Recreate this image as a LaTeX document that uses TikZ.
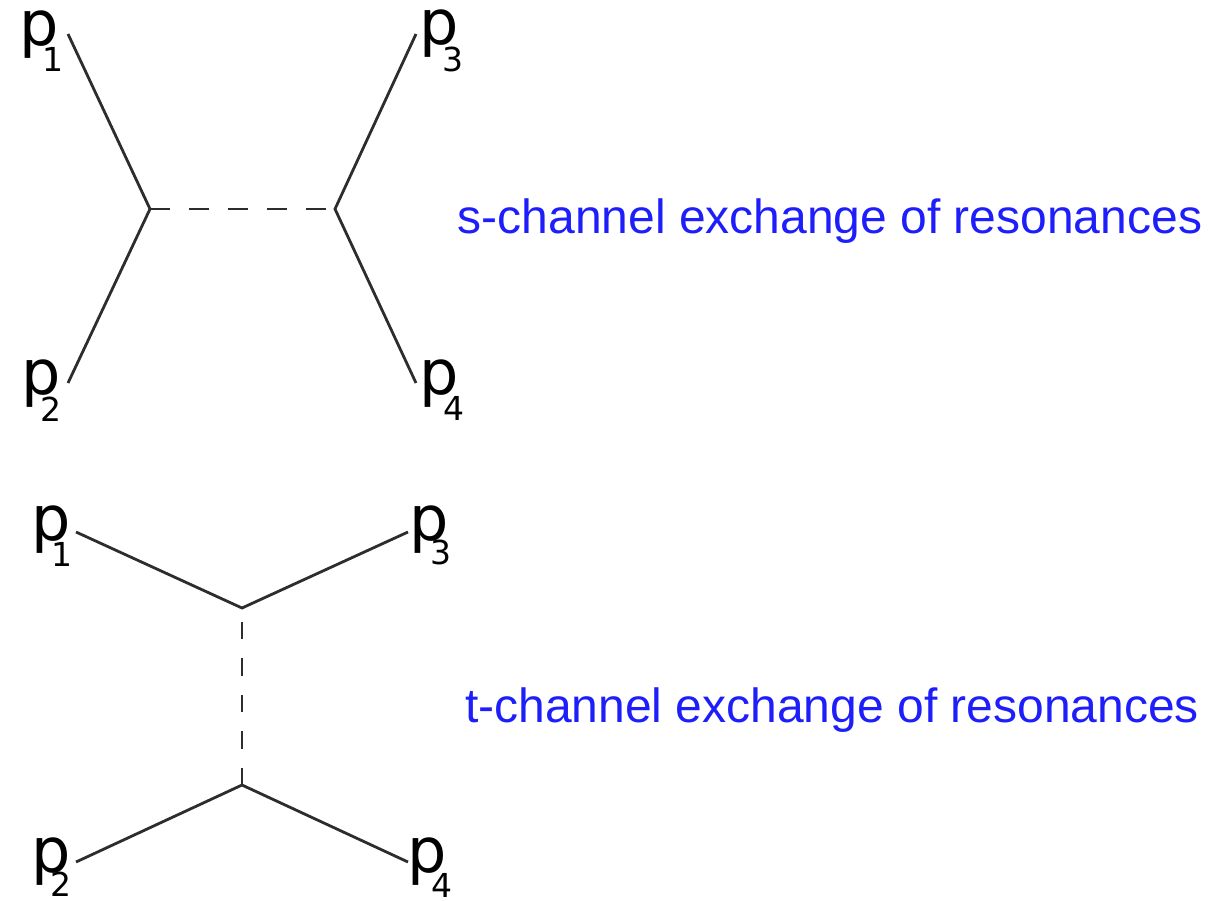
\documentclass[tikz,border=0pt]{standalone}
\usepackage{fontspec}
\setmainfont{Liberation Sans}
\newfontfamily\dvfont{DejaVu Sans}
\definecolor{linegray}{RGB}{45,45,45}
\definecolor{labelblue}{RGB}{30,30,250}
\tikzset{
  leg/.style={draw=linegray, line width=2.8pt},
  propS/.style={draw=linegray, line width=2.8pt, dash pattern=on 20pt off 19pt},
  propT/.style={draw=linegray, line width=2.8pt, dash pattern=on 17.5pt off 19pt},
  pglyph/.style={anchor=base west, inner sep=0pt, font=\dvfont\fontsize{62}{62}\selectfont},
  pidx/.style={anchor=base west, inner sep=0pt, font=\dvfont\fontsize{33}{33}\selectfont},
  caption/.style={anchor=base west, inner sep=0pt, text=labelblue, font=\fontsize{48}{48}\selectfont}
}
\begin{document}
\begin{tikzpicture}[x=1pt, y=-1pt]
\useasboundingbox (0,0) rectangle (1230,900);
% ---------- s-channel ----------
\coordinate (v1) at (150,209);
\coordinate (v2) at (335,209);
\coordinate (a1) at (68,34);
\coordinate (a2) at (68,383);
\coordinate (a3) at (416,34);
\coordinate (a4) at (416,383);
\draw[leg] (a1) -- (v1) -- (a2);
\draw[leg] (a3) -- (v2) -- (a4);
\draw[propS] (v1) -- (v2);
\node[pglyph] (sp1) at (19.5,45.3) {p};
\node[pidx] (sp1i) at (42.5,71) {1};
\node[pglyph] (sp3) at (419.5,44.3) {p};
\node[pidx] (sp3i) at (442.5,71.5) {3};
\node[pglyph] (sp2) at (21.5,394.3) {p};
\node[pidx] (sp2i) at (40.7,421.5) {2};
\node[pglyph] (sp4) at (419.5,394.3) {p};
\node[pidx] (sp4i) at (443.4,420) {4};
\node[caption] (scap) at (457.5,233) {s-channel exchange of resonances};
% ---------- t-channel ----------
\coordinate (w1) at (242,608);
\coordinate (w2) at (242,785);
\coordinate (b1) at (76,532);
\coordinate (b3) at (408,532);
\coordinate (b2) at (76,862);
\coordinate (b4) at (408,862);
\draw[leg] (b1) -- (w1) -- (b3);
\draw[leg] (b2) -- (w2) -- (b4);
\draw[propT] (w2) -- (w1);
\node[pglyph] (tp1) at (31.5,540.3) {p};
\node[pidx] (tp1i) at (51.5,566) {1};
\node[pglyph] (tp3) at (409.5,540.3) {p};
\node[pidx] (tp3i) at (430.5,564.5) {3};
\node[pglyph] (tp2) at (31.5,872.3) {p};
\node[pidx] (tp2i) at (50.7,896.5) {2};
\node[pglyph] (tp4) at (407.5,872.3) {p};
\node[pidx] (tp4i) at (431.4,897) {4};
\node[caption] (tcap) at (465,722) {t-channel exchange of resonances};
\end{tikzpicture}
\end{document}
